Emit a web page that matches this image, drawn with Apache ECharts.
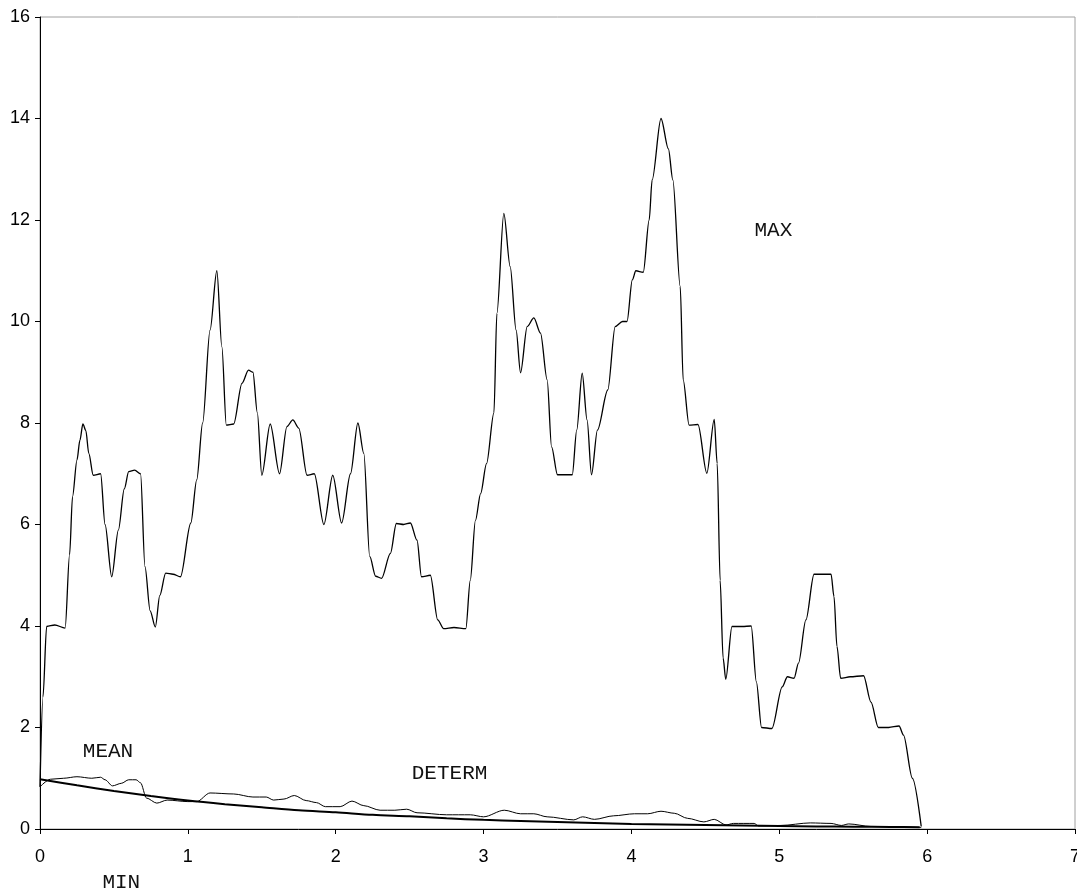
<!DOCTYPE html>
<html>
<head>
<meta charset="utf-8">
<script src="https://cdn.jsdelivr.net/npm/echarts@6/dist/echarts.min.js"></script>
<style>
html,body{margin:0;padding:0;background:#fff;}
#chart{width:1077px;height:894px;}
</style>
</head>
<body>
<div id="chart"></div>
<script>
// MAX series [x, y]
var maxData = [
[0,0.83],[0.02,2.6],[0.045,3.99],[0.1,4.02],[0.17,3.96],[0.2,5.4],[0.22,6.55],[0.25,7.27],[0.27,7.66],[0.29,7.98],
[0.31,7.85],[0.33,7.4],[0.36,6.97],[0.41,7.0],[0.44,6.0],[0.485,4.97],[0.53,5.89],[0.57,6.7],[0.60,7.04],[0.64,7.07],[0.68,7.0],
[0.71,5.17],[0.745,4.3],[0.78,3.98],[0.81,4.6],[0.85,5.04],[0.9,5.02],[0.95,4.97],[1.02,6.03],[1.06,6.88],[1.10,8.0],
[1.15,9.83],[1.196,11.0],[1.23,9.5],[1.26,7.96],[1.31,7.98],[1.366,8.78],[1.41,9.04],[1.44,9.0],[1.47,8.2],[1.50,6.97],
[1.557,7.98],[1.62,7.0],[1.67,7.93],[1.71,8.06],[1.75,7.9],[1.806,6.97],[1.855,7.0],[1.92,6.0],[1.98,6.97],[2.04,6.03],
[2.10,7.0],[2.15,8.0],[2.19,7.4],[2.23,5.37],[2.27,4.98],[2.31,4.94],[2.37,5.43],[2.41,6.02],[2.46,6.0],[2.505,6.03],
[2.55,5.69],[2.58,4.97],[2.64,5.0],[2.69,4.12],[2.73,3.95],[2.80,3.97],[2.88,3.95],[2.91,4.9],[2.945,6.08],[2.98,6.61],
[3.02,7.2],[3.07,8.2],[3.09,10.16],[3.137,12.13],[3.18,11.08],[3.22,9.83],[3.25,8.99],[3.295,9.9],[3.34,10.07],[3.385,9.77],
[3.43,8.85],[3.46,7.53],[3.50,6.98],[3.555,6.98],[3.60,6.98],[3.63,7.86],[3.667,8.98],[3.70,8.06],[3.73,6.98],[3.77,7.86],
[3.84,8.65],[3.89,9.9],[3.94,10.0],[3.97,10.0],[4.006,10.82],[4.03,11.0],[4.08,10.97],[4.12,12.0],[4.14,12.79],[4.20,14.0],
[4.25,13.4],[4.28,12.79],[4.33,10.69],[4.35,8.85],[4.39,7.96],[4.45,7.97],[4.51,7.01],[4.56,8.07],[4.58,7.2],[4.60,4.9],
[4.62,3.37],[4.638,2.95],[4.68,3.99],[4.75,3.99],[4.81,4.0],[4.845,2.9],[4.88,2.0],[4.95,1.98],[5.02,2.8],[5.055,3.0],
[5.10,2.97],[5.13,3.27],[5.18,4.12],[5.235,5.02],[5.29,5.02],[5.35,5.02],[5.37,4.58],[5.39,3.6],[5.415,2.97],[5.48,3.0],
[5.57,3.02],[5.62,2.5],[5.67,2.0],[5.74,2.0],[5.81,2.03],[5.84,1.85],[5.90,1.0],[5.96,0.05]
];
// MEAN series
var meanData = [
[0,0.83],[0.07,0.98],[0.16,1.0],[0.25,1.03],[0.35,1.0],[0.41,1.02],[0.44,0.97],[0.49,0.85],[0.55,0.9],[0.6,0.97],[0.65,0.97],
[0.68,0.91],[0.72,0.61],[0.79,0.51],[0.86,0.57],[1.0,0.54],[1.06,0.54],[1.15,0.71],[1.31,0.69],[1.44,0.63],[1.53,0.63],
[1.58,0.57],[1.65,0.59],[1.72,0.66],[1.80,0.56],[1.87,0.52],[1.93,0.44],[2.03,0.44],[2.11,0.55],[2.19,0.46],[2.30,0.37],
[2.40,0.37],[2.48,0.39],[2.55,0.32],[2.75,0.28],[2.91,0.28],[3.0,0.24],[3.14,0.37],[3.25,0.30],[3.34,0.30],[3.43,0.24],
[3.61,0.18],[3.67,0.24],[3.75,0.19],[3.88,0.26],[4.02,0.30],[4.11,0.30],[4.20,0.35],[4.29,0.31],[4.38,0.21],[4.49,0.14],
[4.56,0.19],[4.64,0.08],[4.69,0.11],[4.83,0.11],[4.86,0.06],[5.01,0.07],[5.21,0.12],[5.35,0.11],[5.42,0.07],[5.47,0.10],
[5.62,0.05],[5.96,0.03]
];
// DETERM series
var determData = [
[0,0.98],[0.25,0.86],[0.5,0.75],[0.75,0.65],[1,0.56],[1.25,0.49],[1.5,0.43],[1.75,0.37],[2,0.33],[2.25,0.28],[2.5,0.25],
[2.75,0.21],[3,0.18],[3.25,0.16],[3.5,0.14],[3.75,0.12],[4,0.10],[4.25,0.09],[4.5,0.08],[4.75,0.07],[5,0.06],[5.25,0.05],
[5.5,0.045],[5.75,0.04],[5.95,0.035]
];
// annotation labels [text, x, y] in data units
var labelNames = ['MAX','MEAN','DETERM','MIN'];
var labelX = [4.96, 0.46, 2.77, 0.55];
var labelY = [11.8, 1.52, 1.10, -1.06];

var chart = echarts.init(document.getElementById('chart'), null, {renderer:'canvas'});
var option = {
  animation:false,
  backgroundColor:'#fff',
  grid:{left:40,right:2,top:17,bottom:65,containLabel:false,outerBoundsMode:'none',show:true,borderColor:'#a0a0a0',borderWidth:1,backgroundColor:'transparent'},
  xAxis:{type:'value',min:0,max:7,interval:1,
    axisLine:{show:true,onZero:false,lineStyle:{color:'#000',width:1}},
    axisTick:{show:true,length:5,lineStyle:{color:'#000'}},
    splitLine:{show:false},
    axisLabel:{color:'#000',fontFamily:'Liberation Sans, Arial',fontSize:18,margin:19,hideOverlap:false}},
  yAxis:{type:'value',min:0,max:16,interval:2,
    axisLine:{show:true,onZero:false,lineStyle:{color:'#000',width:1}},
    axisTick:{show:true,length:5,lineStyle:{color:'#000'}},
    splitLine:{show:false},
    axisLabel:{color:'#000',fontFamily:'Liberation Sans, Arial',fontSize:18,margin:10}},
  series:[
    {name:'MAX',type:'line',data:maxData,smooth:0.3,smoothMonotone:'x',showSymbol:false,lineStyle:{color:'#000',width:1.3}},
    {name:'MEAN',type:'line',data:meanData,smooth:0.3,smoothMonotone:'x',showSymbol:false,lineStyle:{color:'#000',width:1}},
    {name:'DETERM',type:'line',data:determData,smooth:0.3,showSymbol:false,lineStyle:{color:'#000',width:2}}
  ]
};
chart.setOption(option);
var g = [];
for (var i=0;i<labelNames.length;i++){
  var p = chart.convertToPixel({gridIndex:0},[labelX[i],labelY[i]]);
  g.push({type:'text',x:p[0],y:p[1],style:{text:labelNames[i],fill:'#111',font:'21px "Liberation Mono", "Courier New", monospace',textAlign:'center',textVerticalAlign:'middle'}});
}
chart.setOption({graphic:g});
</script>
</body>
</html>
